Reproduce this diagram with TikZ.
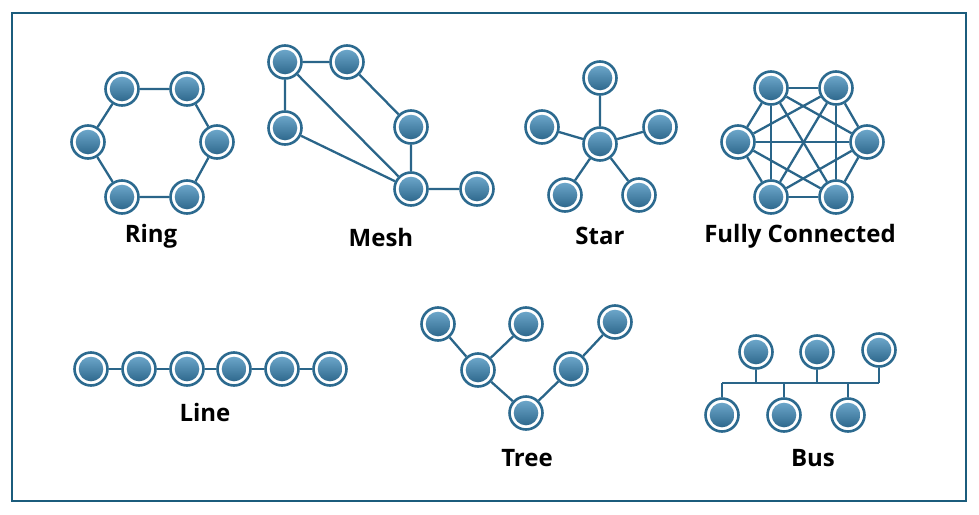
\documentclass[tikz,border=0pt]{standalone}
\usepackage{fontspec}
\setmainfont{Open Sans}
\definecolor{framec}{HTML}{1B5C7C}
\definecolor{ringc}{HTML}{2C6A8F}
\definecolor{linec}{HTML}{2A6589}
\definecolor{topc}{HTML}{76B0D3}
\definecolor{botc}{HTML}{245E83}
\tikzset{
  nd/.style={circle, draw=ringc, line width=2.6pt, fill=white, minimum size=33pt, inner sep=0pt,
    path picture={\shade[top color=topc, bottom color=botc] (path picture bounding box.center) circle (12.3pt);}},
  lk/.style={draw=linec, line width=2.3pt},
  lbl/.style={font=\bfseries\fontsize{24}{28}\selectfont, text=black, inner sep=0pt}
}
\begin{document}
\begin{tikzpicture}[x=1pt,y=-1pt]
\useasboundingbox (0,0) rectangle (979,514);
\draw[framec, line width=2.2pt] (12,13) rectangle (966,501);
% Ring
\node[nd] (r1) at (122,89) {};
\node[nd] (r2) at (187,89) {};
\node[nd] (r3) at (88,142) {};
\node[nd] (r4) at (217,142) {};
\node[nd] (r5) at (122,197) {};
\node[nd] (r6) at (187,197) {};
\draw[lk] (r1)--(r2) (r2)--(r4) (r4)--(r6) (r6)--(r5) (r5)--(r3) (r3)--(r1);
\node[lbl] (lring) at (151,236) {Ring};
% Mesh
\node[nd] (m1) at (285,62) {};
\node[nd] (m2) at (347,62) {};
\node[nd] (m3) at (285,128) {};
\node[nd] (m4) at (411,127) {};
\node[nd] (m5) at (411,189) {};
\node[nd] (m6) at (477,189) {};
\draw[lk] (m1)--(m2) (m1)--(m3) (m1)--(m5) (m3)--(m5) (m2)--(m4) (m4)--(m5) (m5)--(m6);
\node[lbl] (lmesh) at (381,237) {Mesh};
% Star
\node[nd] (s0) at (600,144) {};
\node[nd] (s1) at (600,78) {};
\node[nd] (s2) at (542,127) {};
\node[nd] (s3) at (660,127) {};
\node[nd] (s4) at (565,195) {};
\node[nd] (s5) at (639,195) {};
\draw[lk] (s0)--(s1) (s0)--(s2) (s0)--(s3) (s0)--(s4) (s0)--(s5);
\node[lbl] (lstar) at (600,236) {Star};
% Fully connected
\node[nd] (f1) at (771,88) {};
\node[nd] (f2) at (836,88) {};
\node[nd] (f3) at (738,142) {};
\node[nd] (f4) at (867,142) {};
\node[nd] (f5) at (771,197) {};
\node[nd] (f6) at (836,197) {};
\foreach \a/\b in {f1/f2,f1/f3,f1/f4,f1/f5,f1/f6,f2/f3,f2/f4,f2/f5,f2/f6,f3/f4,f3/f5,f3/f6,f4/f5,f4/f6,f5/f6}
  \draw[lk] (\a)--(\b);
\node[lbl] (lfull) at (800,236) {Fully Connected};
% Line
\node[nd] (l1) at (91,369) {};
\node[nd] (l2) at (139,369) {};
\node[nd] (l3) at (187,369) {};
\node[nd] (l4) at (234,369) {};
\node[nd] (l5) at (282,369) {};
\node[nd] (l6) at (330,369) {};
\draw[lk] (l1)--(l2) (l2)--(l3) (l3)--(l4) (l4)--(l5) (l5)--(l6);
\node[lbl] (lline) at (205,412) {Line};
% Tree
\node[nd] (t1) at (438,324) {};
\node[nd] (t2) at (526,324) {};
\node[nd] (t3) at (615,322) {};
\node[nd] (t4) at (478,370) {};
\node[nd] (t5) at (571,369) {};
\node[nd] (t6) at (526,413) {};
\draw[lk] (t1)--(t4) (t2)--(t4) (t4)--(t6) (t6)--(t5) (t5)--(t3);
\node[lbl] (ltree) at (527,458) {Tree};
% Bus
\node[nd] (b1) at (756,352) {};
\node[nd] (b2) at (817,352) {};
\node[nd] (b3) at (879,350) {};
\node[nd] (b4) at (722,415) {};
\node[nd] (b5) at (784,415) {};
\node[nd] (b6) at (848,415) {};
\coordinate (busL) at (722,383);
\coordinate (busR) at (879,383);
\draw[lk] (busL)--(busR);
\draw[lk] (b1)--(b1|-busL) (b2)--(b2|-busL) (b3)--(b3|-busL)
          (b4)--(b4|-busL) (b5)--(b5|-busL) (b6)--(b6|-busL);
\node[lbl] (lbus) at (813,458) {Bus};
\end{tikzpicture}
\end{document}
